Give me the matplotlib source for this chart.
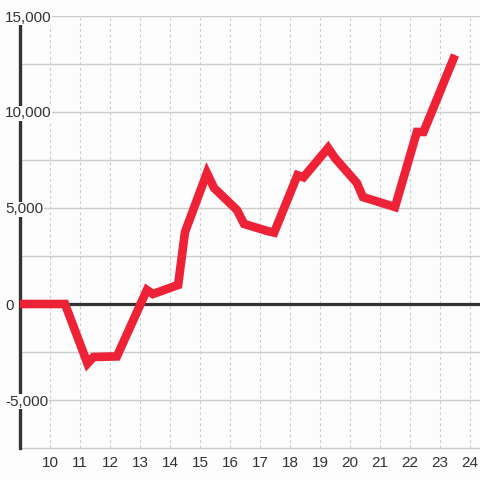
import matplotlib
matplotlib.use("Agg")
import matplotlib.pyplot as plt
import matplotlib.transforms as mtransforms

# data
hours = [9.0, 10.5, 11.25, 11.45, 12.23, 13.23, 13.43, 14.27, 14.5, 15.23, 15.47,
         16.23, 16.47, 17.25, 17.47, 18.25, 18.45, 19.27, 19.5, 20.23, 20.43, 21.5,
         22.23, 22.45, 23.5]
values = [0, 0, -3100, -2760, -2730, 730, 520, 990, 3750, 6820, 6040,
          4900, 4170, 3800, 3720, 6710, 6600, 8130, 7600, 6300, 5570, 5050,
          8960, 8960, 12970]
x_ticks = list(range(10, 25))
y_labels_at = [15000, 10000, 5000, 0, -5000]
y_grid = [-5000, -2500, 2500, 5000, 7500, 10000, 12500, 15000]

bg = "#fbfcfb"
fig = plt.figure(figsize=(4.8, 4.8), dpi=100, facecolor=bg)
ax = fig.add_axes([20/480, 32/480, 460/480, 432/480], facecolor=bg)
ax.set_xlim(9, 24.333)
ax.set_ylim(-7500, 15000)

for s in ["top", "right", "bottom"]:
    ax.spines[s].set_visible(False)
ax.spines["left"].set_color("#333333")
ax.spines["left"].set_linewidth(2.4)
ax.spines["left"].set_bounds(-7500, 14600)
ax.spines["left"].set_zorder(1.6)

for g in y_grid:
    ax.axhline(g, color="#cccccc", lw=1.0, zorder=0.6)
ax.axhline(-7500, color="#cccccc", lw=1.0, zorder=0.6, clip_on=False)
for xt in x_ticks:
    ax.axvline(xt, color="#cccccc", lw=0.8, ls=(0, (2.5, 2.5)), zorder=0.5)
ax.axhline(0, color="#333333", lw=2.3, zorder=1.5)

ax.plot(hours, values, color="#ee2236", lw=6.2, solid_joinstyle="miter",
        solid_capstyle="butt", zorder=3)

ax.set_xticks(x_ticks)
ax.set_xticklabels([str(t) for t in x_ticks], fontsize=11, color="#333333",
                   family="Liberation Sans")
ax.tick_params(axis="x", length=0, pad=6)
ax.set_yticks([])

trans = mtransforms.blended_transform_factory(fig.transFigure, ax.transData)
for v in y_labels_at:
    ax.text(5/480, v, f"{v:,}", transform=trans, ha="left", va="center_baseline",
            fontsize=11, color="#333333", family="Liberation Sans", zorder=5,
            bbox=dict(facecolor=bg, edgecolor="none", pad=0.6), clip_on=False)

fig.savefig("out.png", dpi=100, facecolor=bg)
